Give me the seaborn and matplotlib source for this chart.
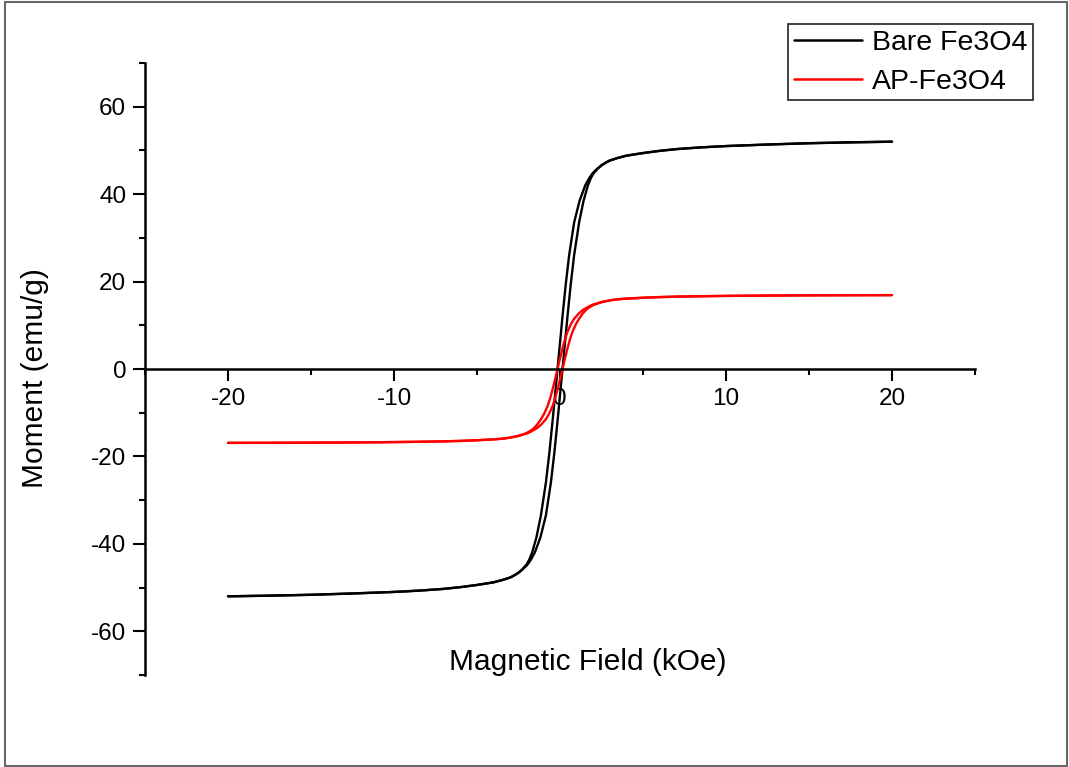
import numpy as np
import pandas as pd
import matplotlib
matplotlib.use("Agg")
import matplotlib.pyplot as plt
from matplotlib.lines import Line2D
from matplotlib.patches import Rectangle
import seaborn as sns

# ---------------- data ----------------
series_names = ["Bare Fe3O4", "AP-Fe3O4"]
series_colors = ["#000000", "#ff0000"]

# Bare Fe3O4 : descending branch (+20 -> -20 kOe)
bare_down_H = [20, 17.5, 15, 12.5, 10, 8.5, 7, 6, 5, 4, 3.5, 3, 2.75, 2.5, 2.24,
               1.97, 1.75, 1.52, 1.18, 0.85, 0.55, 0.35, 0.15, -0.15, -0.45, -0.65,
               -0.85, -1.15, -1.42, -1.68, -1.85, -2.03, -2.26, -2.5, -2.75, -3, -3.5,
               -4, -5, -6, -7, -8.5, -10, -12.5, -15, -17.5, -20]
bare_down_M = [52.0, 51.85, 51.65, 51.35, 51.0, 50.7, 50.3, 49.9, 49.4, 48.8, 48.3, 47.7,
               47.2, 46.6, 45.8, 44.8, 43.6, 42.0, 38.5, 33.5, 26.0, 19.5, 12.0, 0.0,
               -12.0, -19.5, -26.0, -33.5, -38.5, -42.0, -43.6, -44.8, -45.8, -46.6,
               -47.2, -47.7, -48.3, -48.8, -49.4, -49.9, -50.3, -50.7, -51.0, -51.35,
               -51.65, -51.85, -52.0]
# Bare Fe3O4 : ascending branch (-20 -> +20 kOe)
bare_up_H = [-20, -17.5, -15, -12.5, -10, -8.5, -7, -6, -5, -4, -3.5, -3, -2.75, -2.5,
             -2.24, -1.97, -1.75, -1.52, -1.18, -0.85, -0.55, -0.35, -0.15, 0.15, 0.45,
             0.65, 0.85, 1.15, 1.42, 1.68, 1.85, 2.03, 2.26, 2.5, 2.75, 3, 3.5, 4, 5, 6,
             7, 8.5, 10, 12.5, 15, 17.5, 20]
bare_up_M = [-52.0, -51.85, -51.65, -51.35, -51.0, -50.7, -50.3, -49.9, -49.4, -48.8,
             -48.3, -47.7, -47.2, -46.6, -45.8, -44.8, -43.6, -42.0, -38.5, -33.5, -26.0,
             -19.5, -12.0, 0.0, 12.0, 19.5, 26.0, 33.5, 38.5, 42.0, 43.6, 44.8, 45.8,
             46.6, 47.2, 47.7, 48.3, 48.8, 49.4, 49.9, 50.3, 50.7, 51.0, 51.35, 51.65,
             51.85, 52.0]

# AP-Fe3O4 : descending branch
ap_down_H = [20, 17.5, 15, 12.5, 10, 8.5, 7, 6, 5, 4, 3.5, 3, 2.48, 1.96, 1.69, 1.41,
             1.13, 0.85, 0.65, 0.45, 0.30, 0.15, 0.0, -0.15, -0.30, -0.45, -0.60, -0.75,
             -0.95, -1.15, -1.37, -1.59, -1.81, -2.04, -2.52, -3, -3.5, -4, -5, -6, -7,
             -8.5, -10, -12.5, -15, -17.5, -20]
ap_down_M = [16.9, 16.88, 16.85, 16.8, 16.72, 16.65, 16.55, 16.45, 16.3, 16.1, 15.95, 15.7,
             15.3, 14.7, 14.2, 13.6, 12.7, 11.5, 10.2, 8.5, 6.8, 4.7, 2.4, 0.0, -2.4,
             -4.7, -6.8, -8.5, -10.2, -11.5, -12.7, -13.6, -14.2, -14.7, -15.3, -15.7,
             -15.95, -16.1, -16.3, -16.45, -16.55, -16.65, -16.72, -16.8, -16.85,
             -16.88, -16.9]
# AP-Fe3O4 : ascending branch
ap_up_H = [-20, -17.5, -15, -12.5, -10, -8.5, -7, -6, -5, -4, -3.5, -3, -2.48, -1.96,
           -1.69, -1.41, -1.13, -0.85, -0.65, -0.45, -0.30, -0.15, 0.0, 0.15, 0.30, 0.45,
           0.60, 0.75, 0.95, 1.15, 1.37, 1.59, 1.81, 2.04, 2.52, 3, 3.5, 4, 5, 6, 7, 8.5,
           10, 12.5, 15, 17.5, 20]
ap_up_M = [-16.9, -16.88, -16.85, -16.8, -16.72, -16.65, -16.55, -16.45, -16.3, -16.1,
           -15.95, -15.7, -15.3, -14.7, -14.2, -13.6, -12.7, -11.5, -10.2, -8.5, -6.8,
           -4.7, -2.4, 0.0, 2.4, 4.7, 6.8, 8.5, 10.2, 11.5, 12.7, 13.6, 14.2, 14.7, 15.3,
           15.7, 15.95, 16.1, 16.3, 16.45, 16.55, 16.65, 16.72, 16.8, 16.85, 16.88, 16.9]

x_major = [-20, -10, 0, 10, 20]
x_minor = [-25, -15, -5, 5, 15, 25]
y_major = [-60, -40, -20, 0, 20, 40, 60]
y_minor = [-70, -50, -30, -10, 10, 30, 50, 70]

# ---------------- build frame ----------------
frames = []
for name, branch, H, M in [
    (series_names[0], "bare_down", bare_down_H, bare_down_M),
    (series_names[0], "bare_up", bare_up_H, bare_up_M),
    (series_names[1], "ap_down", ap_down_H, ap_down_M),
    (series_names[1], "ap_up", ap_up_H, ap_up_M),
]:
    frames.append(pd.DataFrame({"H": H, "M": M, "sample": name, "branch": branch}))
df = pd.concat(frames, ignore_index=True)

# ---------------- style ----------------
sns.set_theme(style="ticks")
plt.rcParams["font.family"] = ["Liberation Sans", "DejaVu Sans"]
plt.rcParams["text.color"] = "black"
plt.rcParams["xtick.color"] = "black"
plt.rcParams["ytick.color"] = "black"

fig = plt.figure(figsize=(10.69, 7.67), dpi=100)
ax = fig.add_axes([145 / 1069, 1 - 675 / 767, (975 - 145) / 1069, (675 - 63) / 767])

palette = dict(zip(series_names, series_colors))
sns.lineplot(data=df, x="H", y="M", hue="sample", units="branch", estimator=None,
             sort=False, palette=palette, linewidth=1.7, legend=False, ax=ax)

ax.set_xlim(-25, 25)
ax.set_ylim(-70, 70)
ax.spines["top"].set_visible(False)
ax.spines["right"].set_visible(False)
ax.spines["bottom"].set_position(("data", 0))
for s in ("left", "bottom"):
    ax.spines[s].set_linewidth(1.8)
    ax.spines[s].set_color("black")

ax.set_xticks(x_major)
ax.set_xticks(x_minor, minor=True)
ax.set_yticks(y_major)
ax.set_yticks(y_minor, minor=True)
ax.set_xticklabels([str(v) for v in x_major])
ax.set_yticklabels([str(v) for v in y_major])
ax.tick_params(which="major", direction="out", length=8.5, width=1.5, labelsize=17.5,
               pad=5, colors="black")
ax.tick_params(which="minor", direction="out", length=4.3, width=1.5, colors="black")
ax.set_xlabel("")
ax.set_ylabel("")
ax.grid(False)

fig.text(588 / 1069, 1 - 662 / 767, "Magnetic Field (kOe)", ha="center", va="center",
         fontsize=21.5)
fig.text(35 / 1069, 1 - 378 / 767, "Moment (emu/g)", ha="center", va="center",
         rotation=90, fontsize=21.5)

handles = [Line2D([0], [0], color=c, lw=1.8) for c in series_colors]
leg = fig.legend(handles, series_names, loc="upper right",
                 bbox_to_anchor=(1033 / 1069, 1 - 24 / 767), borderaxespad=0,
                 fontsize=20.5, handlelength=2.4, handletextpad=0.35, borderpad=0.2,
                 labelspacing=0.45, fancybox=False, framealpha=1, edgecolor="#333333")
leg.get_frame().set_linewidth(1.3)

fig.patches.append(Rectangle((5 / 1069, 1 / 767), 1062 / 1069, 764 / 767,
                             transform=fig.transFigure, fill=False,
                             edgecolor="#666666", linewidth=1.5))

fig.savefig("out.png", dpi=100)
